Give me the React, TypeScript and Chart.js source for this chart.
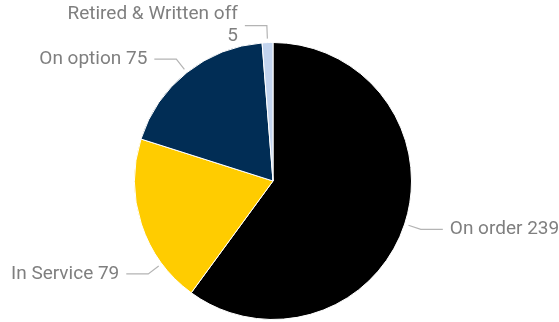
import React, { useEffect, useRef } from "react";
import { Chart, registerables } from "chart.js";

Chart.register(...registerables);

const categories = ["On order", "In Service", "On option", "Retired & Written off"];
const values = [239, 79, 75, 5];
const colors = ["#000000", "#FFCC00", "#012D55", "#C3D4EE"];
// where along each slice the leader line is anchored (0..1)
const anchorFractions = [0.5, 0.24, 0.5, 0.5];
// whether the value goes on a second line
const wrapValue = [false, false, false, true];

const FONT = "19px Roboto";
const TEXT_COLOR = "#7F7F7F";
const LINE_COLOR = "#B4B4B4";

const leaderLabels = {
  id: "leaderLabels",
  afterDatasetsDraw(chart: any) {
    const ctx = chart.ctx;
    const meta = chart.getDatasetMeta(0);
    ctx.save();
    ctx.font = FONT;
    ctx.fillStyle = TEXT_COLOR;
    ctx.strokeStyle = LINE_COLOR;
    ctx.lineWidth = 1.2;
    ctx.textBaseline = "middle";
    meta.data.forEach((arc: any, i: number) => {
      const { x, y, startAngle, endAngle, outerRadius } = arc.getProps(
        ["x", "y", "startAngle", "endAngle", "outerRadius"],
        true
      );
      const a = startAngle + anchorFractions[i] * (endAngle - startAngle);
      const c = Math.cos(a);
      const s = Math.sin(a);
      const p0x = x + (outerRadius + 4) * c;
      const p0y = y + (outerRadius + 4) * s;
      const ex = x + (outerRadius + 17) * c;
      const ey = y + (outerRadius + 17) * s;
      const dir = c >= 0 ? 1 : -1;
      const hx = ex + dir * 22;
      ctx.beginPath();
      ctx.moveTo(p0x, p0y);
      ctx.lineTo(ex, ey);
      ctx.lineTo(hx, ey);
      ctx.stroke();
      const tx = hx + dir * 7;
      ctx.textAlign = dir > 0 ? "left" : "right";
      if (wrapValue[i]) {
        ctx.fillText(categories[i], tx, ey - 11);
        ctx.fillText(String(values[i]), tx, ey + 11);
      } else {
        ctx.fillText(categories[i] + " " + values[i], tx, ey);
      }
    });
    ctx.restore();
  },
};

export default function App() {
  const ref = useRef<HTMLCanvasElement | null>(null);
  useEffect(() => {
    if (!ref.current) return;
    const chart = new Chart(ref.current, {
      type: "pie",
      data: {
        labels: categories,
        datasets: [
          {
            data: values,
            backgroundColor: colors,
            borderColor: "#FFFFFF",
            borderWidth: 1,
          },
        ],
      },
      options: {
        responsive: false,
        animation: false,
        layout: { padding: { left: 134, right: 147, top: 42, bottom: 2 } },
        plugins: {
          legend: { display: false },
          tooltip: { enabled: false },
        },
      },
      plugins: [leaderLabels],
    });
    return () => chart.destroy();
  }, []);
  return (
    <div style={{ position: "fixed", left: 0, top: 0, width: 559, height: 322, background: "#fff" }}>
      <canvas ref={ref} width={559} height={322} style={{ width: 559, height: 322, display: "block" }} />
    </div>
  );
}
